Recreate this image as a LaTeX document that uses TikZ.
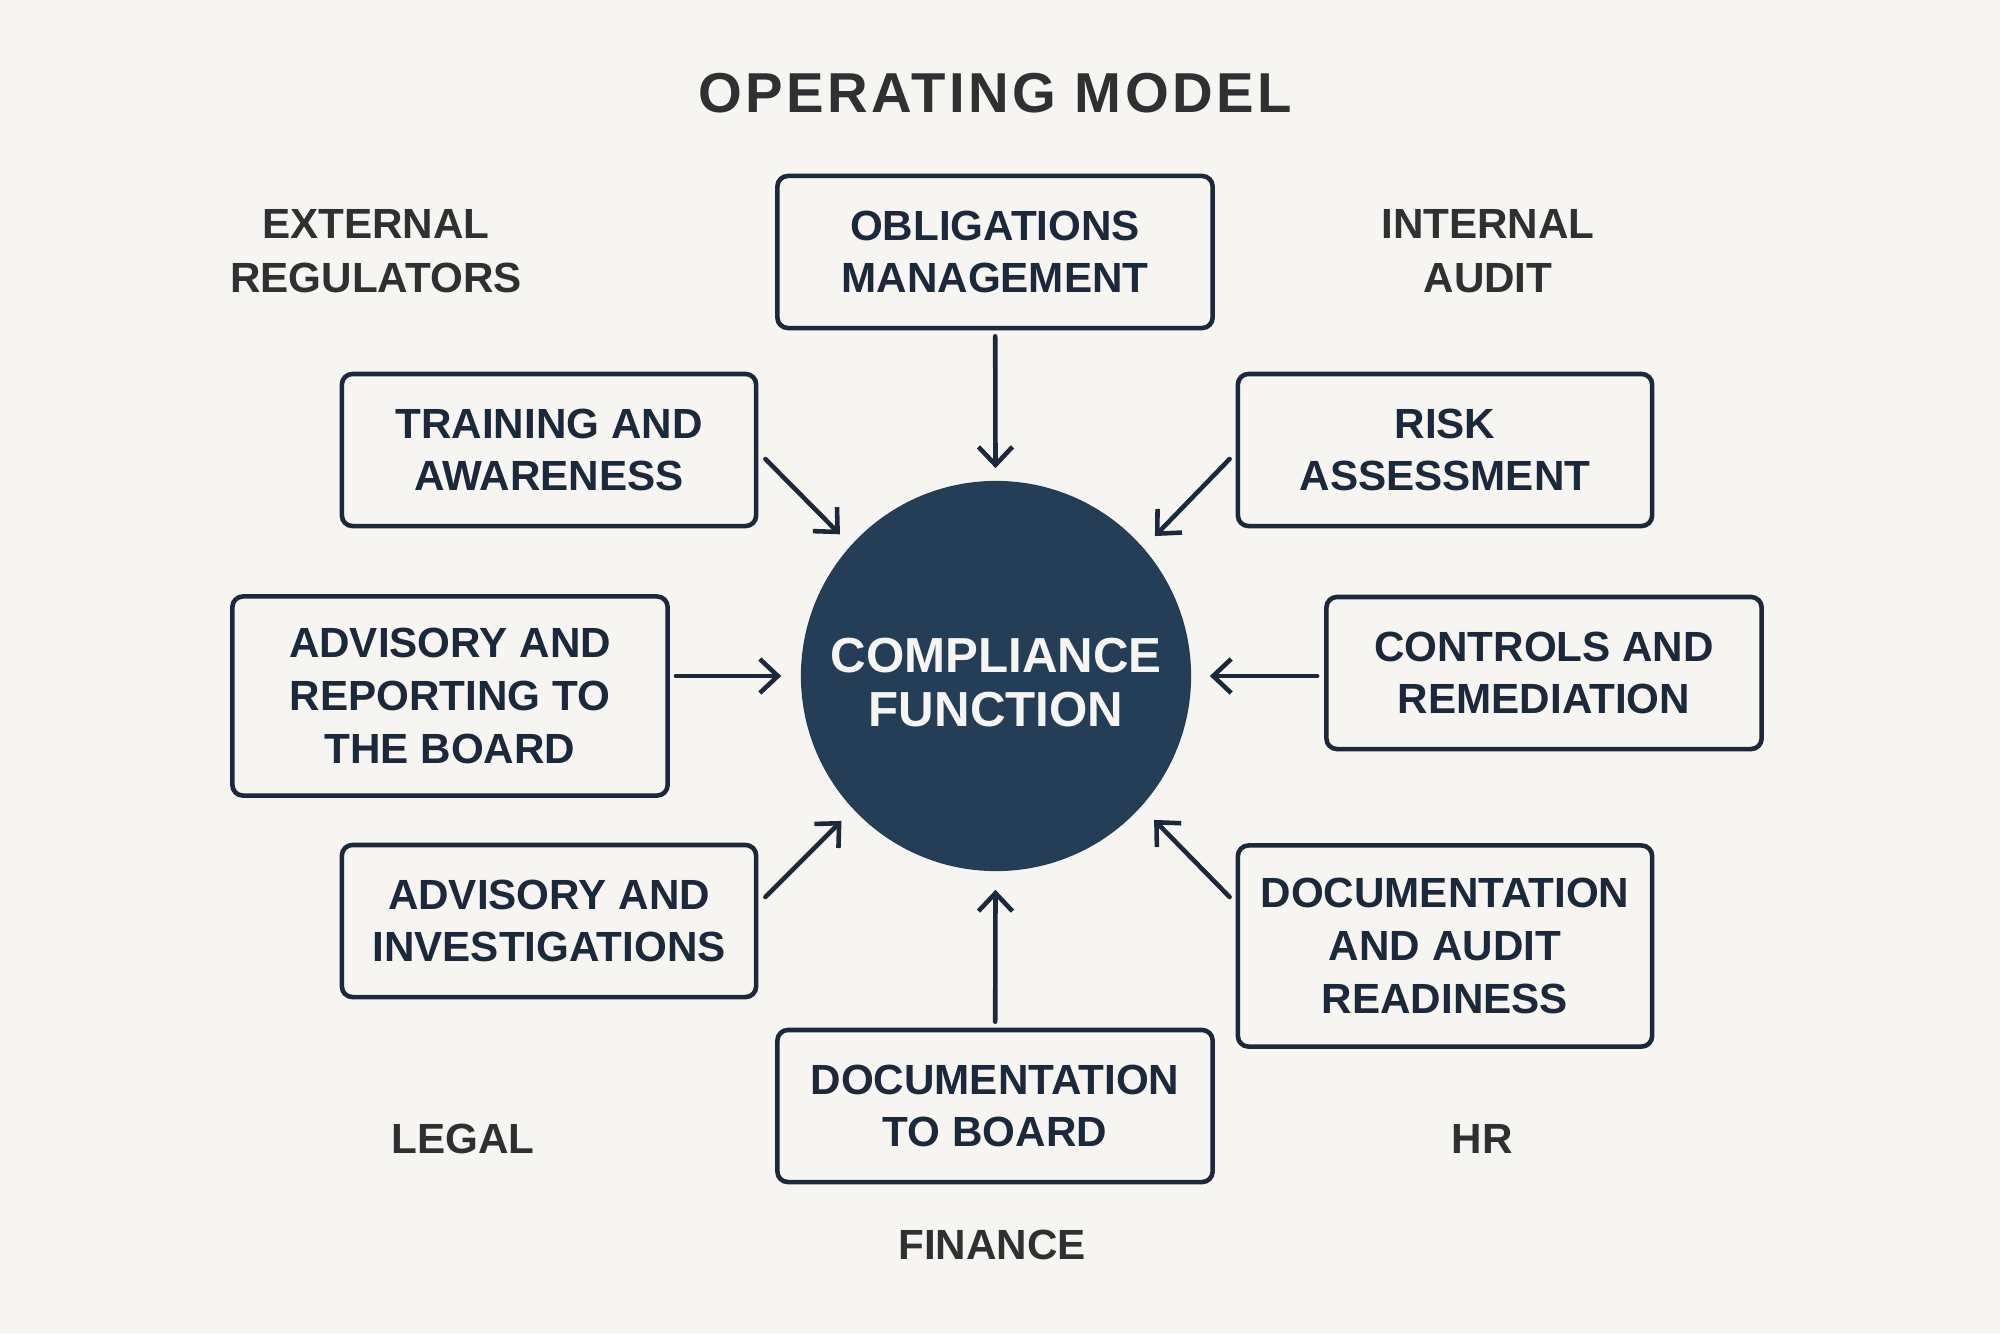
\documentclass[tikz,border=0pt]{standalone}
\usepackage{fontspec}
\setmainfont{Liberation Sans}
\usepackage{tikz}
\usetikzlibrary{arrows.meta,positioning}
\definecolor{paper}{RGB}{247,245,242}
\definecolor{navy}{RGB}{27,41,58}
\definecolor{hubblue}{RGB}{36,62,88}
\definecolor{labelgray}{RGB}{48,48,50}
\tikzset{
  area/.style={draw=navy,line width=1.3pt,rounded corners=3pt,fill=paper,minimum width=4.35cm,minimum height=1.52cm,align=center,font=\fontsize{12}{15}\selectfont\bfseries,text=navy},
  areasm/.style={area,minimum width=4.14cm},
  hub/.style={circle,fill=hubblue,minimum size=3.9cm,inner sep=0pt,align=center,font=\fontsize{14}{15.5}\selectfont\bfseries,text=paper},
  dept/.style={align=center,font=\fontsize{12}{15.3}\selectfont\bfseries,text=labelgray},
  feed/.style={-{Straight Barb[length=1.8mm,width=3.4mm]},draw=navy,line width=1.3pt,line cap=round}
}

\begin{document}
\begin{tikzpicture}[x=0.01cm,y=-0.01cm]
\fill[paper] (0,0) rectangle (2000,1333);
\node[font=\fontsize{16}{19}\selectfont\bfseries\addfontfeature{LetterSpace=6},text=labelgray] (title) at (995,93) {OPERATING MODEL};
\node[hub] (hub) at (996,676) {\rule{0pt}{13.4pt}COMPLIANCE\\FUNCTION};
\node[area] (oblig) at (995,252) {OBLIGATIONS\\MANAGEMENT};
\node[areasm] (train) at (549,450) {TRAINING AND\\AWARENESS};
\node[areasm] (risk) at (1445,450) {RISK\\ASSESSMENT};
\node[area,minimum height=1.99cm] (advrep) at (450,696) {ADVISORY AND\\REPORTING TO\\THE BOARD};
\node[area] (ctrl) at (1544,673) {CONTROLS AND\\REMEDIATION};
\node[areasm] (advinv) at (549,921) {ADVISORY AND\\INVESTIGATIONS};
\node[areasm,minimum height=2.01cm] (docaud) at (1445,946) {DOCUMENTATION\\AND AUDIT\\READINESS};
\node[area] (docbrd) at (995,1106) {DOCUMENTATION\\TO BOARD};
% departments around the model
\node[dept] (extreg) at (376,251) {EXTERNAL\\REGULATORS};
\node[dept] (intaud) at (1488,251) {INTERNAL\\AUDIT};
\node[dept] (legal) at (463,1139) {LEGAL};
\node[dept] (hr) at (1482,1139) {HR};
\node[dept] (fin) at (992,1245) {FINANCE};
% feeds into the hub
\draw[feed,shorten <=0.06cm,shorten >=0.12cm] (oblig) -- (hub);
\draw[feed,shorten >=0.15cm] ([shift={(7,9)}]train.east) -- (hub.138);
\draw[feed,shorten >=0.16cm] ([shift={(-6,9)}]risk.west) -- (hub.41.5);
\draw[feed,shorten <=0.06cm,shorten >=0.19cm] (advrep.east |- hub.west) -- (hub.west);
\draw[feed,shorten <=0.07cm,shorten >=0.18cm] (ctrl.west |- hub.east) -- (hub.east);
\draw[feed,shorten >=0.16cm] ([shift={(7,-24)}]advinv.east) -- (hub.223);
\draw[feed,shorten >=0.18cm] ([shift={(-6,-49)}]docaud.west) -- (hub.318);
\draw[feed,shorten <=0.06cm,shorten >=0.18cm] (docbrd) -- (hub);
\end{tikzpicture}
\end{document}
